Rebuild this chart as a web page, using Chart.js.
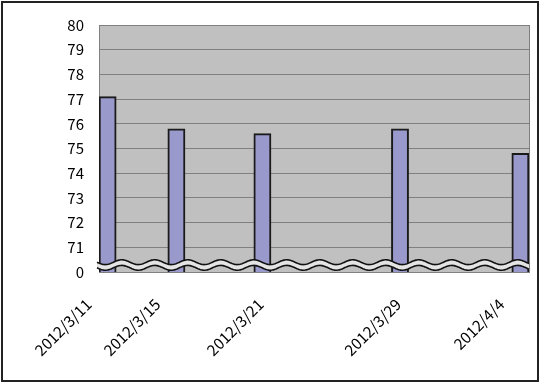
<!DOCTYPE html>
<html>
<head>
<meta charset="utf-8">
<script src="https://cdn.jsdelivr.net/npm/chart.js@4/dist/chart.umd.min.js"></script>
<style>
  html, body { margin: 0; padding: 0; background: #fff; }
  #wrap { width: 540px; height: 383px; }
</style>
</head>
<body>
<div id="wrap"><canvas id="chart" width="540" height="383"></canvas></div>
<script>
// one slot per day, 2012/3/11 .. 2012/4/4
const dayCount = 25;

// bars: day slot and value
const barSlots = [0, 4, 9, 17, 24];
const values = [77.1, 75.8, 75.6, 75.8, 74.8];

// axis labels and the day slot they sit under
const tickLabels = ['2012/3/11', '2012/3/15', '2012/3/21', '2012/3/29', '2012/4/4'];
const labelSlots = [0, 4, 10, 18, 24];

// y axis is broken: the bottom line stands for 0, then 71..80
const yMin = 70;
const yMax = 80;

const labels = [];
const data = [];
for (let i = 0; i < dayCount; i++) {
  const li = labelSlots.indexOf(i);
  labels.push(li >= 0 ? tickLabels[li] : '');
  const bi = barSlots.indexOf(i);
  data.push(bi >= 0 ? values[bi] : null);
}

const FONT = "'Noto Sans CJK JP', 'DejaVu Sans', sans-serif";

const breakPlugin = {
  id: 'axisBreak',
  afterDatasetsDraw(chart) {
    const { ctx, chartArea } = chart;
    const yc = chartArea.bottom - 7;
    const x0 = chartArea.left - 2, x1 = chartArea.right + 1;
    const P = 33, A = 2.4, gap = 2.8;
    const wave = (x, off) => yc + off + A * Math.sin((x - x0) / P * Math.PI * 2);
    ctx.save();
    ctx.beginPath();
    for (let x = x0; x <= x1; x++) ctx.lineTo(x, wave(x, -gap));
    for (let x = x1; x >= x0; x--) ctx.lineTo(x, wave(x, gap));
    ctx.closePath();
    ctx.fillStyle = '#e4e4e4';
    ctx.fill();
    ctx.lineWidth = 1.6;
    ctx.strokeStyle = '#111';
    [-gap, gap].forEach(off => {
      ctx.beginPath();
      for (let x = x0; x <= x1; x++) ctx.lineTo(x, wave(x, off));
      ctx.stroke();
    });
    ctx.restore();
  }
};

const framePlugin = {
  id: 'frame',
  beforeDraw(chart) {
    const { ctx, chartArea } = chart;
    ctx.save();
    ctx.fillStyle = '#c0c0c0';
    ctx.fillRect(chartArea.left, chartArea.top, chartArea.right - chartArea.left, chartArea.bottom - chartArea.top);
    ctx.restore();
  },
  afterDraw(chart) {
    const { ctx, chartArea } = chart;
    ctx.save();
    ctx.strokeStyle = '#808080';
    ctx.lineWidth = 1;
    ctx.beginPath();
    ctx.moveTo(chartArea.right + 0.5, chartArea.top);
    ctx.lineTo(chartArea.right + 0.5, chartArea.bottom);
    ctx.stroke();
    ctx.strokeStyle = '#222';
    ctx.lineWidth = 2;
    ctx.strokeRect(2, 2, chart.width - 4, chart.height - 4);
    ctx.restore();
  }
};

new Chart(document.getElementById('chart'), {
  type: 'bar',
  data: {
    labels: labels,
    datasets: [{
      data: data,
      backgroundColor: '#9999cc',
      borderColor: '#1a1a1a',
      borderWidth: 2,
      barPercentage: 1,
      categoryPercentage: 1
    }]
  },
  options: {
    responsive: false,
    animation: false,
    layout: { padding: { left: 0, right: 11, top: 25, bottom: 0 } },
    plugins: { legend: { display: false }, tooltip: { enabled: false } },
    scales: {
      x: {
        offset: true,
        grid: { display: false },
        border: { color: '#808080' },
        ticks: {
          autoSkip: false,
          maxRotation: 45,
          minRotation: 45,
          color: '#000',
          font: { family: FONT, size: 15.5 },
          padding: 15,
          labelOffset: -19
        },
        afterFit(scale) {
          scale.height = 111;
          scale.paddingLeft = 0;
          scale.paddingRight = 0;
        }
      },
      y: {
        min: yMin,
        max: yMax,
        grid: { color: '#808080', drawTicks: false },
        border: { color: '#808080' },
        ticks: {
          stepSize: 1,
          color: '#000',
          padding: 15,
          font: { family: FONT, size: 15 },
          callback: v => v === yMin ? '0' : v
        },
        afterFit(scale) { scale.width = 99; }
      }
    }
  },
  plugins: [framePlugin, breakPlugin]
});
</script>
</body>
</html>
